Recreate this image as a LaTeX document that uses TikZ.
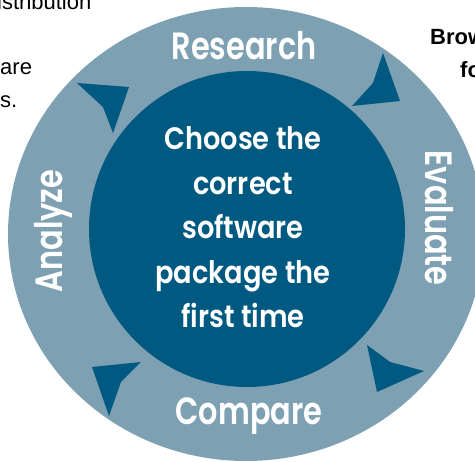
\documentclass[tikz,border=0pt]{standalone}
\usepackage{fontspec}
\setmainfont{Liberation Sans}
\newfontfamily\cyclefont{Poppins}[FakeStretch=0.8, BoldFont={* SemiBold}]
\newfontfamily\hubfont{Poppins}[FakeStretch=0.88, BoldFont={* SemiBold}]
\usepackage{tikz}

\definecolor{ringblue}{RGB}{126,160,179}
\definecolor{hubblue}{RGB}{0,89,128}

\tikzset{
  steplabel/.style={text=white, inner sep=0pt, anchor=base,
    font=\cyclefont\bfseries\fontsize{38}{38}\selectfont},
  hubtext/.style={text=white, inner sep=0pt, anchor=base, align=center,
    font=\hubfont\bfseries\fontsize{31}{44.5}\selectfont},
  arrowhead/.style={fill=hubblue},
  sidetext/.style={inner sep=0pt, anchor=base west,
    font=\fontsize{22}{22}\selectfont},
}

\begin{document}
\begin{tikzpicture}[x=1pt, y=-1pt]
  \useasboundingbox (0,0) rectangle (475,462);
  \clip (0,0) rectangle (475,462);
  \fill[white] (0,0) rectangle (475,462);

  % ring and hub
  \coordinate (ringc) at (246,234);
  \coordinate (hub) at (247,229);
  \fill[ringblue] (ringc) ellipse [x radius=238, y radius=227];
  \fill[hubblue] (hub) circle [radius=158];

  % arrowheads, clockwise
  \fill[arrowhead] (400,101) -- (383,53) -- (373,83) -- (352,106) -- cycle;
  \fill[arrowhead] (377,392) -- (424,371) -- (390,362) -- (367,345) -- cycle;
  \fill[arrowhead] (92,367) -- (109,416) -- (121,382) -- (141,362) -- cycle;
  \fill[arrowhead] (129,87) -- (77,83) -- (103,107) -- (113,133) -- cycle;

  % steps
  \node[steplabel] (research) at (244,60) {Research};
  \node[steplabel, rotate=-90] (evaluate) at (425,218) {Evaluate};
  \node[steplabel] (compare) at (249,425) {Compare};
  \node[steplabel, rotate=90] (analyze) at (63,231) {Analyze};

  % base sits on the last line
  \node[hubtext] (goal) at (243,328)
    {Choose the\\correct\\software\\package the\\first time};

  % text around the figure
  \node[sidetext] (lefta) at (-3,10) {istribution};
  \node[sidetext] (leftb) at (0,75) {are};
  \node[sidetext] (leftc) at (0,108) {s.};
  \node[sidetext, font=\bfseries\fontsize{22}{22}\selectfont] (righta) at (430,45) {Brow};
  \node[sidetext, font=\bfseries\fontsize{22}{22}\selectfont] (rightb) at (460,78) {fo};
\end{tikzpicture}
\end{document}
